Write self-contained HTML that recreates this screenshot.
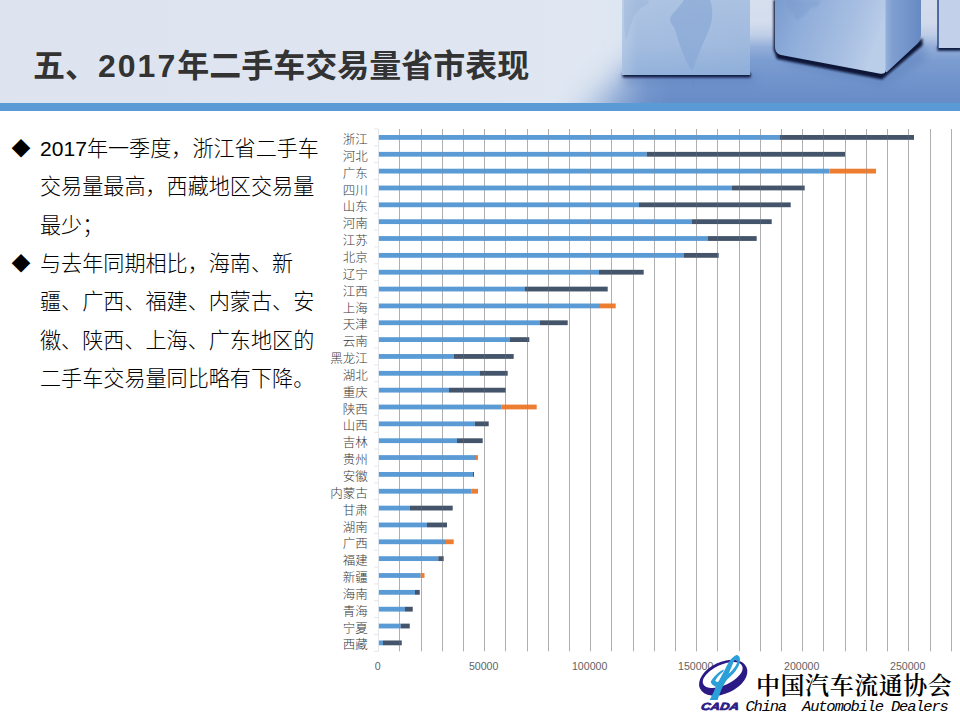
<!DOCTYPE html>
<html lang="zh-CN">
<head>
<meta charset="utf-8">
<title>五、2017年二手车交易量省市表现</title>
<style>
html,body{margin:0;padding:0;}
body{width:960px;height:720px;overflow:hidden;background:#fff;position:relative;font-family:"Liberation Sans","Noto Sans CJK SC",sans-serif;}
.slide{position:absolute;left:0;top:0;width:960px;height:720px;overflow:hidden;background:#fff;}
.hdr{position:absolute;left:0;top:0;width:960px;height:103px;overflow:hidden;}
.hdr svg{display:block;}
.rule{position:absolute;left:0;top:103px;width:960px;height:8px;background:#5b9bd5;}
h1{position:absolute;left:33px;top:42px;margin:0;font-size:32px;line-height:48px;font-weight:700;color:#333;white-space:nowrap;letter-spacing:0;font-family:"Liberation Sans","Noto Sans CJK SC",sans-serif;}
h1 .num{letter-spacing:2px;margin-left:1px;}
ul.pts{position:absolute;left:11px;top:130px;width:320px;margin:0;padding:0;list-style:none;font-size:21.1px;line-height:38.35px;font-weight:300;color:#000;font-family:"Liberation Sans","Noto Sans CJK SC",sans-serif;}
ul.pts li{position:relative;padding-left:29px;margin:0;}
ul.pts li .bu{position:absolute;left:0.5px;top:1px;width:18px;text-align:center;font-weight:400;font-size:19px;}
.chart{position:absolute;left:0;top:0;}
.chart text{font-family:"Liberation Sans","Noto Sans CJK SC",sans-serif;font-size:12.5px;fill:#383838;font-weight:300;}
.chart .val text{fill:#636363;font-size:10.6px;}
.logo{position:absolute;left:690px;top:650px;width:80px;height:65px;}
.org{position:absolute;left:756px;top:668px;margin:0;font-family:"Liberation Serif","Noto Serif CJK SC",serif;font-weight:600;font-size:24px;letter-spacing:0.55px;line-height:36px;color:#000;white-space:nowrap;}
.orgen{position:absolute;left:745.5px;top:696.5px;margin:0;font-family:"Liberation Mono",monospace;font-style:italic;font-size:15.5px;letter-spacing:-1.22px;line-height:20px;color:#000;white-space:pre;}
</style>
</head>
<body>
<div class="slide">
<div class="hdr">
<svg width="960" height="103" viewBox="0 0 960 103">
<defs>
<linearGradient id="bgL" x1="0" y1="0" x2="1" y2="0">
<stop offset="0" stop-color="#dde4f0"/><stop offset="0.5" stop-color="#dfe6f2"/><stop offset="0.62" stop-color="#dfe7f2"/><stop offset="0.8" stop-color="#d6dfee"/><stop offset="1" stop-color="#d3dced"/>
</linearGradient>
<linearGradient id="floorV" x1="0" y1="0" x2="0" y2="1">
<stop offset="0" stop-color="#8aa7d6" stop-opacity="0"/><stop offset="0.22" stop-color="#8aa7d6" stop-opacity="0.04"/><stop offset="0.34" stop-color="#8aa7d6" stop-opacity="0.3"/><stop offset="0.46" stop-color="#86a4d4" stop-opacity="0.85"/><stop offset="0.58" stop-color="#7c9dd1" stop-opacity="1"/><stop offset="0.78" stop-color="#7194cc" stop-opacity="1"/><stop offset="1" stop-color="#678bc6" stop-opacity="1"/>
</linearGradient>
<linearGradient id="floorH" gradientUnits="userSpaceOnUse" x1="500" y1="0" x2="960" y2="0">
<stop offset="0" stop-color="#000"/><stop offset="0.1" stop-color="#000"/><stop offset="0.2" stop-color="#666"/><stop offset="0.26" stop-color="#b0b0b0"/><stop offset="0.32" stop-color="#eee"/><stop offset="0.37" stop-color="#fff"/><stop offset="1" stop-color="#fff"/>
</linearGradient>
<filter id="bl8" x="-40%" y="-40%" width="180%" height="180%"><feGaussianBlur stdDeviation="15"/></filter>
<mask id="fm" maskUnits="userSpaceOnUse" x="500" y="0" width="460" height="103"><rect x="500" y="0" width="460" height="103" fill="url(#floorH)"/><path d="M420 -60 L650 -60 L650 48 L612 80 L575 108 L555 140 L420 140 Z" fill="#000" filter="url(#bl8)"/></mask>
<linearGradient id="c1" x1="0" y1="0" x2="0" y2="1">
<stop offset="0" stop-color="#aac1e1"/><stop offset="0.6" stop-color="#9fb9de"/><stop offset="1" stop-color="#8eaed9"/>
</linearGradient>
<linearGradient id="c1h" x1="0" y1="0" x2="1" y2="0">
<stop offset="0" stop-color="#fff" stop-opacity="0.22"/><stop offset="0.12" stop-color="#fff" stop-opacity="0.05"/><stop offset="1" stop-color="#fff" stop-opacity="0"/>
</linearGradient>
<linearGradient id="c2l" x1="0" y1="0" x2="1" y2="0.25">
<stop offset="0" stop-color="#7a9bcf"/><stop offset="0.3" stop-color="#90aeda"/><stop offset="0.7" stop-color="#a5bde1"/><stop offset="1" stop-color="#bacde9"/>
</linearGradient>
<linearGradient id="c2r" x1="0" y1="0" x2="1" y2="0">
<stop offset="0" stop-color="#94b0da"/><stop offset="0.2" stop-color="#7f9fd1"/><stop offset="0.6" stop-color="#7495cb"/><stop offset="1" stop-color="#6789c2"/>
</linearGradient>
<filter id="bl1" x="-20%" y="-100%" width="140%" height="300%"><feGaussianBlur stdDeviation="0.9"/></filter>
<filter id="bl4" x="-20%" y="-100%" width="140%" height="300%"><feGaussianBlur stdDeviation="4"/></filter>
</defs>
<rect width="960" height="103" fill="url(#bgL)"/>
<!-- floor -->
<g mask="url(#fm)"><rect x="500" y="0" width="460" height="103" fill="url(#floorV)"/></g>
<!-- cube1 -->
<rect x="624" y="74" width="130" height="10" fill="#5f82bd" opacity="0.55" filter="url(#bl4)"/>
<rect x="622.5" y="73" width="128.5" height="4.6" rx="1.5" fill="#101d42" filter="url(#bl1)"/>
<rect x="622" y="0" width="128" height="75" fill="url(#c1)"/>
<rect x="622" y="0" width="128" height="75" fill="url(#c1h)"/>
<path d="M624 0 L648 0 C650 3 647 5 644 6 C640 8 636 12 633 18 C631 24 629 32 626 40 C624 36 624 20 624 0 Z" fill="#8fadd8" opacity="0.32"/>
<path d="M684 0 C680 6 676 10 671 16 C669 20 671 24 674 27 C676 32 678 40 681 48 C684 56 687 64 691 69 C693 70 694 68 695 64 C698 54 703 44 707 34 C711 26 713 18 712 10 C712 6 711 2 710 0 Z" fill="#86a5d3" opacity="0.6"/>
<path d="M694 78 C696 82 694 86 691 88 C692 84 692 81 694 78 Z" fill="#6689c2" opacity="0.5"/>
<!-- cube2 -->
<path d="M778 52 L884 76 L924 42 L926 60 L884 86 L790 66 Z" fill="#5f82bd" opacity="0.55" filter="url(#bl4)"/>
<path d="M773.6 0 L773.6 50 L777 59 L882 79.5 L922.5 45.5 L922.5 38 L882 70 L778 48 L777 0 Z" fill="#0c1838" filter="url(#bl1)"/>
<path d="M775 0 L886 0 L886 70 Q885 75 879 73.5 L781 55 Q775 53.5 775 47 Z" fill="url(#c2l)"/>
<path d="M786 0 L820 0 C822 6 816 8 812 7 C808 10 806 16 800 18 C797 22 795 20 794 15 C790 12 787 6 786 0 Z" fill="#7797cb" opacity="0.35" filter="url(#bl1)"/>
<path d="M885.5 0 L921 0 L921 34 Q921 40 917 44 L887 72 Q885.5 73 885.5 70 Z" fill="url(#c2r)"/>
<!-- cube3 -->
<rect x="937.5" y="46" width="24" height="4.8" fill="#101d42" filter="url(#bl1)"/>
<rect x="938" y="0" width="22" height="48" fill="#c2d1e9"/>
<rect x="937" y="0" width="2" height="48" fill="#34508c" opacity="0.8"/>
</svg>

</div>
<div class="rule"></div>
<h1>五、<span class="num">2017</span>年二手车交易量省市表现</h1>
<ul class="pts">
<li><span class="bu">◆</span>2017年一季度，浙江省二手车<br>交易量最高，西藏地区交易量<br>最少；</li>
<li><span class="bu">◆</span>与去年同期相比，海南、新<br>疆、广西、福建、内蒙古、安<br>徽、陕西、上海、广东地区的<br>二手车交易量同比略有下降。</li>
</ul>
<svg class="chart" width="960" height="720" viewBox="0 0 960 720">
<g stroke="#bdbdbd" stroke-width="1"><line x1="399.50" y1="129.0" x2="399.50" y2="651.3"/><line x1="421.50" y1="129.0" x2="421.50" y2="651.3"/><line x1="442.50" y1="129.0" x2="442.50" y2="651.3"/><line x1="463.50" y1="129.0" x2="463.50" y2="651.3"/><line x1="484.50" y1="129.0" x2="484.50" y2="651.3"/><line x1="505.50" y1="129.0" x2="505.50" y2="651.3"/><line x1="527.50" y1="129.0" x2="527.50" y2="651.3"/><line x1="548.50" y1="129.0" x2="548.50" y2="651.3"/><line x1="569.50" y1="129.0" x2="569.50" y2="651.3"/><line x1="590.50" y1="129.0" x2="590.50" y2="651.3"/><line x1="611.50" y1="129.0" x2="611.50" y2="651.3"/><line x1="633.50" y1="129.0" x2="633.50" y2="651.3"/><line x1="654.50" y1="129.0" x2="654.50" y2="651.3"/><line x1="675.50" y1="129.0" x2="675.50" y2="651.3"/><line x1="696.50" y1="129.0" x2="696.50" y2="651.3"/><line x1="717.50" y1="129.0" x2="717.50" y2="651.3"/><line x1="739.50" y1="129.0" x2="739.50" y2="651.3"/><line x1="760.50" y1="129.0" x2="760.50" y2="651.3"/><line x1="781.50" y1="129.0" x2="781.50" y2="651.3"/><line x1="802.50" y1="129.0" x2="802.50" y2="651.3"/><line x1="823.50" y1="129.0" x2="823.50" y2="651.3"/><line x1="845.50" y1="129.0" x2="845.50" y2="651.3"/><line x1="866.50" y1="129.0" x2="866.50" y2="651.3"/><line x1="887.50" y1="129.0" x2="887.50" y2="651.3"/><line x1="908.50" y1="129.0" x2="908.50" y2="651.3"/><line x1="930.50" y1="129.0" x2="930.50" y2="651.3"/><line x1="951.50" y1="129.0" x2="951.50" y2="651.3"/></g>
<g stroke="#e3e6ec" stroke-width="1"><line x1="378.6" y1="129.0" x2="378.6" y2="651.3"/><line x1="374.1" y1="129.00" x2="378.6" y2="129.00"/><line x1="374.1" y1="145.85" x2="378.6" y2="145.85"/><line x1="374.1" y1="162.70" x2="378.6" y2="162.70"/><line x1="374.1" y1="179.55" x2="378.6" y2="179.55"/><line x1="374.1" y1="196.39" x2="378.6" y2="196.39"/><line x1="374.1" y1="213.24" x2="378.6" y2="213.24"/><line x1="374.1" y1="230.09" x2="378.6" y2="230.09"/><line x1="374.1" y1="246.94" x2="378.6" y2="246.94"/><line x1="374.1" y1="263.79" x2="378.6" y2="263.79"/><line x1="374.1" y1="280.64" x2="378.6" y2="280.64"/><line x1="374.1" y1="297.48" x2="378.6" y2="297.48"/><line x1="374.1" y1="314.33" x2="378.6" y2="314.33"/><line x1="374.1" y1="331.18" x2="378.6" y2="331.18"/><line x1="374.1" y1="348.03" x2="378.6" y2="348.03"/><line x1="374.1" y1="364.88" x2="378.6" y2="364.88"/><line x1="374.1" y1="381.73" x2="378.6" y2="381.73"/><line x1="374.1" y1="398.57" x2="378.6" y2="398.57"/><line x1="374.1" y1="415.42" x2="378.6" y2="415.42"/><line x1="374.1" y1="432.27" x2="378.6" y2="432.27"/><line x1="374.1" y1="449.12" x2="378.6" y2="449.12"/><line x1="374.1" y1="465.97" x2="378.6" y2="465.97"/><line x1="374.1" y1="482.82" x2="378.6" y2="482.82"/><line x1="374.1" y1="499.66" x2="378.6" y2="499.66"/><line x1="374.1" y1="516.51" x2="378.6" y2="516.51"/><line x1="374.1" y1="533.36" x2="378.6" y2="533.36"/><line x1="374.1" y1="550.21" x2="378.6" y2="550.21"/><line x1="374.1" y1="567.06" x2="378.6" y2="567.06"/><line x1="374.1" y1="583.91" x2="378.6" y2="583.91"/><line x1="374.1" y1="600.75" x2="378.6" y2="600.75"/><line x1="374.1" y1="617.60" x2="378.6" y2="617.60"/><line x1="374.1" y1="634.45" x2="378.6" y2="634.45"/><line x1="374.1" y1="651.30" x2="378.6" y2="651.30"/></g>
<g><rect x="378.90" y="135.02" width="401.10" height="4.8" fill="#5b9bd5"/><rect x="780.00" y="135.02" width="134.00" height="4.8" fill="#44546a"/><rect x="378.90" y="151.87" width="267.80" height="4.8" fill="#5b9bd5"/><rect x="646.70" y="151.87" width="198.30" height="4.8" fill="#44546a"/><rect x="378.90" y="168.72" width="450.40" height="4.8" fill="#5b9bd5"/><rect x="829.30" y="168.72" width="46.70" height="4.8" fill="#ed7d31"/><rect x="378.90" y="185.57" width="353.10" height="4.8" fill="#5b9bd5"/><rect x="732.00" y="185.57" width="72.70" height="4.8" fill="#44546a"/><rect x="378.90" y="202.42" width="260.10" height="4.8" fill="#5b9bd5"/><rect x="639.00" y="202.42" width="151.70" height="4.8" fill="#44546a"/><rect x="378.90" y="219.27" width="313.10" height="4.8" fill="#5b9bd5"/><rect x="692.00" y="219.27" width="79.70" height="4.8" fill="#44546a"/><rect x="378.90" y="236.11" width="329.10" height="4.8" fill="#5b9bd5"/><rect x="708.00" y="236.11" width="48.70" height="4.8" fill="#44546a"/><rect x="378.90" y="252.96" width="305.10" height="4.8" fill="#5b9bd5"/><rect x="684.00" y="252.96" width="34.70" height="4.8" fill="#44546a"/><rect x="378.90" y="269.81" width="220.10" height="4.8" fill="#5b9bd5"/><rect x="599.00" y="269.81" width="44.70" height="4.8" fill="#44546a"/><rect x="378.90" y="286.66" width="146.10" height="4.8" fill="#5b9bd5"/><rect x="525.00" y="286.66" width="82.70" height="4.8" fill="#44546a"/><rect x="378.90" y="303.51" width="221.10" height="4.8" fill="#5b9bd5"/><rect x="600.00" y="303.51" width="15.70" height="4.8" fill="#ed7d31"/><rect x="378.90" y="320.36" width="161.10" height="4.8" fill="#5b9bd5"/><rect x="540.00" y="320.36" width="27.70" height="4.8" fill="#44546a"/><rect x="378.90" y="337.20" width="131.10" height="4.8" fill="#5b9bd5"/><rect x="510.00" y="337.20" width="19.30" height="4.8" fill="#44546a"/><rect x="378.90" y="354.05" width="75.10" height="4.8" fill="#5b9bd5"/><rect x="454.00" y="354.05" width="59.70" height="4.8" fill="#44546a"/><rect x="378.90" y="370.90" width="101.10" height="4.8" fill="#5b9bd5"/><rect x="480.00" y="370.90" width="27.70" height="4.8" fill="#44546a"/><rect x="378.90" y="387.75" width="70.10" height="4.8" fill="#5b9bd5"/><rect x="449.00" y="387.75" width="56.70" height="4.8" fill="#44546a"/><rect x="378.90" y="404.60" width="122.80" height="4.8" fill="#5b9bd5"/><rect x="501.70" y="404.60" width="35.00" height="4.8" fill="#ed7d31"/><rect x="378.90" y="421.45" width="96.10" height="4.8" fill="#5b9bd5"/><rect x="475.00" y="421.45" width="13.70" height="4.8" fill="#44546a"/><rect x="378.90" y="438.30" width="78.10" height="4.8" fill="#5b9bd5"/><rect x="457.00" y="438.30" width="25.70" height="4.8" fill="#44546a"/><rect x="378.90" y="455.14" width="97.10" height="4.8" fill="#5b9bd5"/><rect x="476.00" y="455.14" width="2.00" height="4.8" fill="#ed7d31"/><rect x="378.90" y="471.99" width="94.10" height="4.8" fill="#5b9bd5"/><rect x="473.00" y="471.99" width="1.00" height="4.8" fill="#44546a"/><rect x="378.90" y="488.84" width="92.80" height="4.8" fill="#5b9bd5"/><rect x="471.70" y="488.84" width="6.30" height="4.8" fill="#ed7d31"/><rect x="378.90" y="505.69" width="31.10" height="4.8" fill="#5b9bd5"/><rect x="410.00" y="505.69" width="42.70" height="4.8" fill="#44546a"/><rect x="378.90" y="522.54" width="48.10" height="4.8" fill="#5b9bd5"/><rect x="427.00" y="522.54" width="20.00" height="4.8" fill="#44546a"/><rect x="378.90" y="539.39" width="67.10" height="4.8" fill="#5b9bd5"/><rect x="446.00" y="539.39" width="7.70" height="4.8" fill="#ed7d31"/><rect x="378.90" y="556.23" width="59.40" height="4.8" fill="#5b9bd5"/><rect x="438.30" y="556.23" width="5.40" height="4.8" fill="#44546a"/><rect x="378.90" y="573.08" width="41.85" height="4.8" fill="#5b9bd5"/><rect x="420.75" y="573.08" width="3.75" height="4.8" fill="#ed7d31"/><rect x="378.90" y="589.93" width="36.10" height="4.8" fill="#5b9bd5"/><rect x="415.00" y="589.93" width="4.75" height="4.8" fill="#44546a"/><rect x="378.90" y="606.78" width="26.10" height="4.8" fill="#5b9bd5"/><rect x="405.00" y="606.78" width="7.75" height="4.8" fill="#44546a"/><rect x="378.90" y="623.63" width="21.85" height="4.8" fill="#5b9bd5"/><rect x="400.75" y="623.63" width="9.00" height="4.8" fill="#44546a"/><rect x="378.90" y="640.48" width="4.10" height="4.8" fill="#5b9bd5"/><rect x="383.00" y="640.48" width="18.75" height="4.8" fill="#44546a"/></g>
<g stroke="#80868f" stroke-width="1" opacity="0.25"><line x1="399.50" y1="129.0" x2="399.50" y2="651.3"/><line x1="421.50" y1="129.0" x2="421.50" y2="651.3"/><line x1="442.50" y1="129.0" x2="442.50" y2="651.3"/><line x1="463.50" y1="129.0" x2="463.50" y2="651.3"/><line x1="484.50" y1="129.0" x2="484.50" y2="651.3"/><line x1="505.50" y1="129.0" x2="505.50" y2="651.3"/><line x1="527.50" y1="129.0" x2="527.50" y2="651.3"/><line x1="548.50" y1="129.0" x2="548.50" y2="651.3"/><line x1="569.50" y1="129.0" x2="569.50" y2="651.3"/><line x1="590.50" y1="129.0" x2="590.50" y2="651.3"/><line x1="611.50" y1="129.0" x2="611.50" y2="651.3"/><line x1="633.50" y1="129.0" x2="633.50" y2="651.3"/><line x1="654.50" y1="129.0" x2="654.50" y2="651.3"/><line x1="675.50" y1="129.0" x2="675.50" y2="651.3"/><line x1="696.50" y1="129.0" x2="696.50" y2="651.3"/><line x1="717.50" y1="129.0" x2="717.50" y2="651.3"/><line x1="739.50" y1="129.0" x2="739.50" y2="651.3"/><line x1="760.50" y1="129.0" x2="760.50" y2="651.3"/><line x1="781.50" y1="129.0" x2="781.50" y2="651.3"/><line x1="802.50" y1="129.0" x2="802.50" y2="651.3"/><line x1="823.50" y1="129.0" x2="823.50" y2="651.3"/><line x1="845.50" y1="129.0" x2="845.50" y2="651.3"/><line x1="866.50" y1="129.0" x2="866.50" y2="651.3"/><line x1="887.50" y1="129.0" x2="887.50" y2="651.3"/><line x1="908.50" y1="129.0" x2="908.50" y2="651.3"/><line x1="930.50" y1="129.0" x2="930.50" y2="651.3"/><line x1="951.50" y1="129.0" x2="951.50" y2="651.3"/></g>
<g class="cat" text-anchor="end"><text x="367.8" y="144.02">浙江</text><text x="367.8" y="160.87">河北</text><text x="367.8" y="177.72">广东</text><text x="367.8" y="194.57">四川</text><text x="367.8" y="211.42">山东</text><text x="367.8" y="228.27">河南</text><text x="367.8" y="245.11">江苏</text><text x="367.8" y="261.96">北京</text><text x="367.8" y="278.81">辽宁</text><text x="367.8" y="295.66">江西</text><text x="367.8" y="312.51">上海</text><text x="367.8" y="329.36">天津</text><text x="367.8" y="346.20">云南</text><text x="367.8" y="363.05">黑龙江</text><text x="367.8" y="379.90">湖北</text><text x="367.8" y="396.75">重庆</text><text x="367.8" y="413.60">陕西</text><text x="367.8" y="430.45">山西</text><text x="367.8" y="447.30">吉林</text><text x="367.8" y="464.14">贵州</text><text x="367.8" y="480.99">安徽</text><text x="367.8" y="497.84">内蒙古</text><text x="367.8" y="514.69">甘肃</text><text x="367.8" y="531.54">湖南</text><text x="367.8" y="548.39">广西</text><text x="367.8" y="565.23">福建</text><text x="367.8" y="582.08">新疆</text><text x="367.8" y="598.93">海南</text><text x="367.8" y="615.78">青海</text><text x="367.8" y="632.63">宁夏</text><text x="367.8" y="649.48">西藏</text></g>
<g class="val" text-anchor="middle"><text x="377.60" y="670.3">0</text><text x="483.62" y="670.3">50000</text><text x="589.65" y="670.3">100000</text><text x="695.67" y="670.3">150000</text><text x="801.70" y="670.3">200000</text><text x="907.73" y="670.3">250000</text></g>
</svg>
<div class="logo">
<svg width="80" height="65" viewBox="0 0 80 65">
<path fill-rule="evenodd" fill="#2b1a86" d="M10 38.62 A25.6 15.6 -25 1 0 56.4 16.98 A25.6 15.6 -25 1 0 10 38.62 Z M13.21 34.09 A21.5 10.2 -25 1 1 52.19 15.91 A21.5 10.2 -25 1 1 13.21 34.09 Z"/>
<g transform="translate(4 2) scale(0.066667)">
<path fill="#2a9fd8" fill-rule="evenodd" d="M235 720 L300 590 L325 520 C290 500 255 480 250 445 C290 380 360 300 445 262 C448 280 440 290 425 305 C380 340 340 390 318 432 C330 450 350 455 370 440 L470 250 C520 150 570 70 640 45 C690 50 700 110 680 180 C650 270 570 350 500 410 C440 490 400 580 355 720 Z M625 118 C600 128 590 160 575 195 L520 325 C570 285 622 222 646 165 C654 140 646 116 625 118 Z"/>
<circle cx="616" cy="136" r="13" fill="#2b1a86" opacity="0.8"/>
</g>
<g transform="translate(10.4 60.1) scale(1.27 1) skewX(-8)">
<text x="0" y="0" font-family="'Liberation Sans', sans-serif" font-weight="700" font-style="italic" font-size="10.4" fill="#2b1a86" stroke="#2b1a86" stroke-width="0.7" stroke-linejoin="round">CADA</text>
</g>
</svg>

</div>
<p class="org">中国汽车流通协会</p>
<p class="orgen">China  Automobile Dealers</p>
</div>
</body>
</html>
